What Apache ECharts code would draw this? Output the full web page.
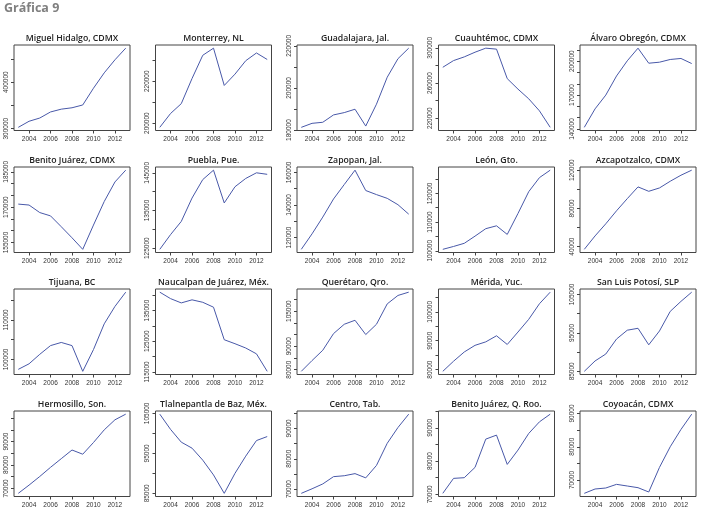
<!DOCTYPE html>
<html><head><meta charset="utf-8">
<script src="https://cdn.jsdelivr.net/npm/echarts@6/dist/echarts.min.js"></script>
<style>html,body{margin:0;padding:0;background:#fff}#c{width:718px;height:512px}</style>
</head><body><div id="c"></div>
<script>
const years = [2003,2004,2005,2006,2007,2008,2009,2010,2011,2012,2013];
const xTickLabels = [2004,2006,2008,2010,2012];
const titles = ["Miguel Hidalgo, CDMX","Monterrey, NL","Guadalajara, Jal.","Cuauhtémoc, CDMX","Álvaro Obregón, CDMX",
  "Benito Juárez, CDMX","Puebla, Pue.","Zapopan, Jal.","León, Gto.","Azcapotzalco, CDMX",
  "Tijuana, BC","Naucalpan de Juárez, Méx.","Querétaro, Qro.","Mérida, Yuc.","San Luis Potosí, SLP",
  "Hermosillo, Son.","Tlalnepantla de Baz, Méx.","Centro, Tab.","Benito Juárez, Q. Roo.","Coyoacán, CDMX"];
const miguelHidalgo = [303000,316000,323000,336000,342000,345000,351000,387000,420000,448000,473000];
const monterrey = [198000,204600,209300,221300,232400,235800,218000,223400,229800,233500,230400];
const guadalajara = [181300,183200,183700,187200,188300,189900,181900,192300,205100,213900,218900];
const cuauhtemoc = [277900,285500,289700,295000,299600,298500,265000,253100,242100,228400,209700];
const alvaroObregon = [141500,157800,170000,186900,200300,211500,198200,199100,201500,202400,197900];
const benitoJuarezCDMX = [171300,170900,167700,166300,161700,157000,152100,162400,172400,180700,185700];
const puebla = [124700,128600,132100,138300,143200,145700,137000,141300,143500,145000,144600];
const zapopan = [112800,122300,132600,143700,152600,161400,148900,146400,144100,140200,134400];
const leon = [100500,101500,102600,105100,107700,108700,105700,113000,120600,125500,128100];
const azcapotzalco = [37200,51200,63900,77500,90200,102500,97900,101400,108400,114700,120000];
const tijuana = [97500,98900,101300,103500,104300,103500,97000,102500,109000,113400,117000];
const naucalpan = [141000,138900,137500,138500,137700,136100,125500,124200,122800,120900,115200];
const queretaro = [79300,83900,88300,95400,99400,101100,95000,99400,108100,111700,113100];
const merida = [79400,82900,86100,88400,89600,91700,88700,93000,97400,102800,106800];
const sanLuisPotosi = [85000,87700,89500,93400,95700,96200,91900,95500,100600,103200,105600];
const hermosillo = [67900,71400,75100,79000,82700,86400,84600,89600,95000,99300,101700];
const tlalnepantla = [104800,101000,97800,96300,93300,89600,85000,90000,94300,98200,99200];
const centro = [68600,70100,71700,74100,74400,75100,73700,77800,85100,90300,94700];
const benitoJuarezQRoo = [70300,74800,75000,78100,86600,87800,79000,83300,88300,91800,94100];
const coyoacan = [66000,67300,67600,68700,68200,67700,66400,73800,80000,85200,89800];
const seriesValues = [miguelHidalgo,monterrey,guadalajara,cuauhtemoc,alvaroObregon,
  benitoJuarezCDMX,puebla,zapopan,leon,azcapotzalco,
  tijuana,naucalpan,queretaro,merida,sanLuisPotosi,
  hermosillo,tlalnepantla,centro,benitoJuarezQRoo,coyoacan];
const yTickStep = [50000,10000,10000,20000,10000, 5000,5000,10000,5000,20000, 5000,5000,5000,5000,5000, 5000,5000,5000,5000,5000];
const yTickLabels = [[300000,400000],[200000,220000],[180000,200000,220000],[220000,260000,300000],[140000,170000,200000],
  [155000,170000,185000],[125000,135000,145000],[120000,140000,160000],[100000,110000,120000],[40000,80000,120000],
  [100000,110000],[115000,125000,135000],[80000,90000,105000],[80000,90000,100000],[85000,95000,105000],
  [70000,80000,90000],[85000,95000,105000],[70000,80000,90000],[70000,80000,90000],[70000,80000,90000]];

const chart = echarts.init(document.getElementById('c'), null, {renderer:'canvas'});
const colLeft = [14, 155.5, 297, 438.5, 580];
const rowTop = [45, 167, 289, 411];
const W = 116, H = 85.5;
const tickFont = '"Liberation Sans Narrow","Arial Narrow","Liberation Sans",sans-serif';
const plain = v => String(Math.round(v));
const grid = [], xAxis = [], yAxis = [], series = [], title = [];
title.push({text:'Gráfica 9', left:4, top:2, padding:0, textStyle:{fontFamily:'"Open Sans",sans-serif', fontWeight:'bold', fontSize:12.5, color:'#808080'}});
seriesValues.forEach((vals, i) => {
  const r = Math.floor(i/5), c = i%5;
  const mn = Math.min(...vals), mx = Math.max(...vals), pad = (mx-mn)*0.04;
  const ymin = mn - pad, ymax = mx + pad;
  const step = yTickStep[i];
  const ticks = [];
  for (let v = Math.ceil(ymin/step)*step; v <= ymax; v += step) ticks.push(v);
  grid.push({left: colLeft[c], top: rowTop[r], width: W, height: H, show: true, borderColor: '#444', borderWidth: 1, containLabel: false});
  xAxis.push({type:'value', gridIndex:i, min:2002.6, max:2013.4,
    axisLine:{show:false}, splitLine:{show:false},
    axisTick:{show:true, length:3, customValues:xTickLabels, lineStyle:{color:'#444'}},
    axisLabel:{customValues:xTickLabels, formatter:plain, margin:5.5, fontSize:6.5, color:'#333', fontFamily:tickFont}});
  yAxis.push({type:'value', gridIndex:i, min:ymin, max:ymax,
    axisLine:{show:false}, splitLine:{show:false},
    axisTick:{show:true, length:3, customValues:ticks, lineStyle:{color:'#444'}},
    axisLabel:{customValues:yTickLabels[i], formatter:plain, rotate:90, margin:4.5, fontSize:6.5, color:'#333', fontFamily:tickFont}});
  series.push({type:'line', xAxisIndex:i, yAxisIndex:i, data: years.map((y,k)=>[y, vals[k]]),
    showSymbol:false, symbol:'none', lineStyle:{color:'#4858a8', width:1}, animation:false});
  title.push({text: titles[i], left: colLeft[c] + W/2, top: rowTop[r] - 11, padding:0, textAlign:'center',
    textStyle:{fontFamily:'"Open Sans",sans-serif', fontWeight:600, fontSize:8.7, color:'#222'}});
});
chart.setOption({animation:false, title, grid, xAxis, yAxis, series});
</script></body></html>
